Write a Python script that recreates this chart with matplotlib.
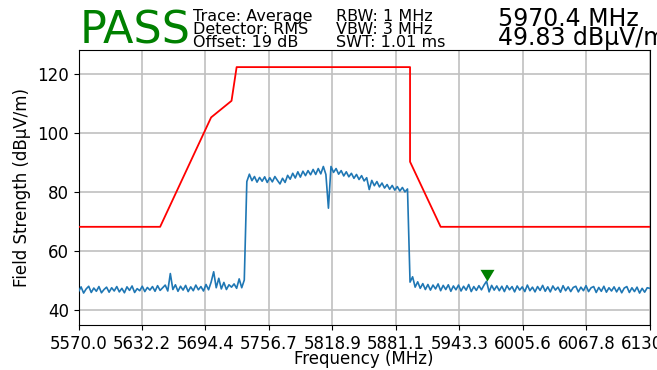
import numpy as np
import matplotlib
matplotlib.use("Agg")
import matplotlib.pyplot as plt

# measured average trace, 2.5 MHz sweep step from 5570 to 6130 MHz
trace_dbuv = [
    46.3, 47.9, 45.8, 47.2, 48.1, 46.0, 47.5, 46.4, 48.0, 45.9, 47.0, 47.8, 46.1, 47.6, 46.5,
    48.0, 46.2, 47.4, 45.9, 47.9, 46.7, 48.2, 46.0, 47.3, 46.6, 48.1, 46.3, 47.7, 46.8, 48.0,
    46.4, 48.3, 46.7, 47.6, 48.5, 46.5, 52.4, 47.0, 48.6, 46.4, 48.1, 46.8, 48.4, 46.3, 47.9,
    46.6, 48.5, 46.9, 48.0, 46.5, 48.7, 46.9, 49.5, 53.0, 47.6, 50.8, 47.2, 49.4, 47.0, 48.6,
    47.8, 48.9, 47.4, 50.6, 47.6, 50.2, 83.5, 86.0, 83.8, 85.2, 83.3, 84.9, 83.6, 85.1, 83.2,
    84.8, 83.4, 85.2, 83.9, 82.7, 84.6, 83.2, 85.6, 84.3, 86.3, 84.7, 86.8, 85.0, 87.0, 85.5,
    87.2, 85.8, 87.6, 85.9, 87.9, 86.1, 88.6, 85.9, 74.5, 88.6, 86.6, 87.9, 86.0, 87.2, 85.4,
    86.8, 85.1, 86.3, 84.6, 85.9, 84.2, 85.5, 83.7, 84.8, 80.8, 83.9, 82.1, 83.5, 81.7, 83.0,
    81.3, 82.5, 80.9, 82.2, 80.6, 81.8, 80.3, 81.5, 80.0, 81.0, 49.5, 51.3, 47.8, 49.6, 47.4,
    49.0, 47.0, 48.7, 46.8, 48.5, 47.2, 48.9, 46.6, 48.4, 47.0, 48.6, 46.4, 48.2, 46.9, 48.5,
    46.5, 48.1, 46.8, 48.7, 46.3, 48.0, 46.7, 48.3, 46.9, 48.5, 49.8, 46.2, 48.4, 46.8, 48.2,
    46.6, 48.1, 46.3, 48.3, 46.9, 48.0, 46.2, 48.2, 46.8, 47.9, 46.3, 48.5, 46.6, 47.8, 46.2,
    48.0, 46.7, 48.4, 46.4, 47.9, 46.2, 48.2, 46.8, 47.8, 46.1, 48.3, 46.6, 47.9, 46.3, 47.7,
    48.1, 46.2, 47.8, 46.6, 48.3, 46.3, 47.6, 48.0, 46.0, 47.7, 46.4, 48.1, 46.1, 47.6, 46.5,
    47.9, 46.2, 47.7, 45.9, 47.5, 48.0, 46.0, 47.6, 46.3, 47.8, 45.8, 47.4, 46.1, 47.6, 47.4,
]
f_start, f_stop = 5570.0, 6130.0
freq_mhz = np.linspace(f_start, f_stop, len(trace_dbuv))

# emission limit mask
limit_freq = [5570, 5650, 5700, 5720, 5725, 5895, 5895, 5925, 6130]
limit_dbuv = [68.2, 68.2, 105.2, 110.8, 122.2, 122.2, 90.2, 68.2, 68.2]

marker_freq = 5970.4
marker_level = 49.83

header_left = ["Trace: Average", "Detector: RMS", "Offset: 19 dB"]
header_mid = ["RBW: 1 MHz", "VBW: 3 MHz", "SWT: 1.01 ms"]
verdict = "PASS"

fig = plt.figure(figsize=(6.57, 3.7), dpi=100)
ax = fig.add_axes([0.1195, 0.1216, 0.8695, 0.7434])

ax.plot(freq_mhz, trace_dbuv, color="#1f77b4", lw=1.2, zorder=3)
ax.plot(limit_freq, limit_dbuv, color="red", lw=1.3, zorder=4)
# tip of the triangle sits on the marker level
tri = [(0, 0), (-0.6, 1), (0.6, 1), (0, 0)]
ax.plot([marker_freq], [marker_level], marker=tri, ms=16.8, color="green",
        mew=0, ls="none", zorder=5)

ticks = np.linspace(f_start, f_stop, 10)
ax.set_xticks(ticks)
ax.set_xticklabels(["%.1f" % t for t in ticks])
ax.set_xlim(f_start, f_stop)
ax.set_ylim(35, 128)
ax.set_yticks([40, 60, 80, 100, 120])
ax.tick_params(labelsize=12)
ax.grid(True, color="#c0c0c0", lw=1.2)
ax.set_axisbelow(True)
ax.set_xlabel("Frequency (MHz)", fontsize=12, labelpad=-2)
ax.set_ylabel("Field Strength (dBµV/m)", fontsize=12)

fig.text(80 / 657, 1 - 44 / 370, verdict, color="green", fontsize=32,
         va="baseline", ha="left")
for i, (a, b) in enumerate(zip(header_left, header_mid)):
    yb = 1 - (21 + 13 * i) / 370
    fig.text(193 / 657, yb, a, fontsize=11.5, va="baseline")
    fig.text(336 / 657, yb, b, fontsize=11.5, va="baseline")
fig.text(498 / 657, 1 - 26 / 370, "%.1f MHz" % marker_freq, fontsize=17,
         va="baseline")
fig.text(498 / 657, 1 - 45 / 370, "%.2f dBµV/m" % marker_level, fontsize=17,
         va="baseline")

fig.savefig("out.png", dpi=100)
